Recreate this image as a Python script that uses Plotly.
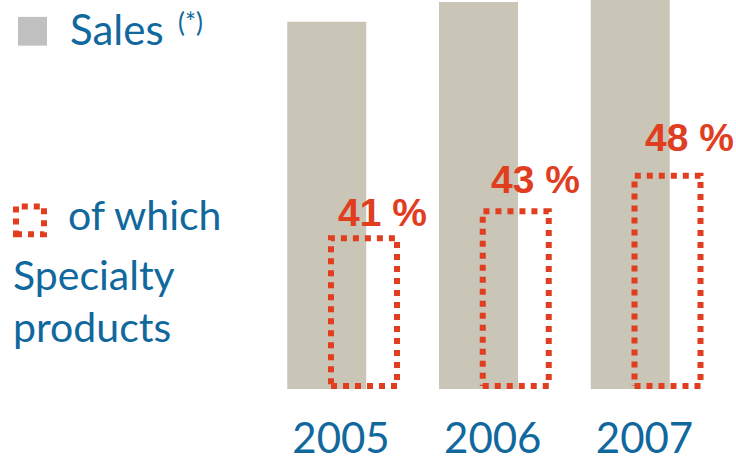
import plotly.graph_objects as go

# ---------------- data ----------------
years = ["2005", "2006", "2007"]
sales = [100.0, 105.4, 108.0]          # relative sales index (2005 = 100)
specialty = [41.9, 49.2, 58.9]         # specialty products, same relative scale
share_labels = ["41 %", "43 %", "48 %"]

# ---------------- styling ----------------
W, H = 736, 462
M_B = 70
PLOT_H = H - M_B
Y_TOP = 105.95
UNIT_PX = 151.75
X0_PX = 341.0

BLUE = "#11689d"
RED = "#e03e1f"
BAR_GREY = "#c9c5b7"
LEG_GREY = "#c0c0c0"

px_per_y = PLOT_H / Y_TOP
line_w = 6
inset_x = (line_w / 2) / UNIT_PX
inset_y = (line_w / 2) / px_per_y

grey_offset = -53.75 / UNIT_PX
grey_width = 79 / UNIT_PX
red_left = -13.0 / UNIT_PX
red_width = 72 / UNIT_PX

xs = list(range(len(years)))

fig = go.Figure()
fig.add_trace(go.Bar(
    x=xs, y=sales, width=grey_width, offset=grey_offset,
    marker=dict(color=BAR_GREY, line=dict(width=0)),
    showlegend=False, hoverinfo="skip",
))

for i, v in enumerate(specialty):
    l = xs[i] + red_left + inset_x
    r = xs[i] + red_left + red_width - inset_x
    b = inset_y
    t = v - inset_y
    fig.add_trace(go.Scatter(
        x=[l, r, r, l, l], y=[b, b, t, t, b], mode="lines",
        line=dict(color=RED, width=line_w, dash="dot"),
        showlegend=False, hoverinfo="skip",
    ))

label_dx = [18, 20, 22]
label_dy = [23, 29, 35]
for i, (v, txt) in enumerate(zip(specialty, share_labels)):
    fig.add_annotation(
        x=xs[i] + red_left + red_width / 2, y=v, xref="x", yref="y",
        text=txt, showarrow=False, xanchor="center", yanchor="middle",
        xshift=label_dx[i], yshift=label_dy[i],
        font=dict(family="Liberation Sans, Arial", size=39, color=RED, weight="bold"),
    )

def px2paper(px, py):
    return px / W, (PLOT_H - py) / PLOT_H

# legend: grey square
x0, y0 = px2paper(18, 17)
x1, y1 = px2paper(47, 46)
fig.add_shape(type="rect", xref="paper", yref="paper", x0=x0, y0=y1, x1=x1, y1=y0,
              fillcolor=LEG_GREY, line=dict(width=0))
# legend: red dotted square
x0, y0 = px2paper(16, 208)
x1, y1 = px2paper(44, 236)
fig.add_shape(type="rect", xref="paper", yref="paper", x0=x0, y0=y1, x1=x1, y1=y0,
              fillcolor="rgba(0,0,0,0)", line=dict(color=RED, width=line_w, dash="dot"))

def leg_text(txt, px, py, size):
    x, y = px2paper(px, py)
    fig.add_annotation(x=x, y=y, xref="paper", yref="paper", text=txt, showarrow=False,
                       xanchor="left", yanchor="middle",
                       font=dict(family="Lato", size=size, color=BLUE))

leg_text("Sales", 68, 29, 42)
leg_text("(*)", 176, 22, 26)
leg_text("of which", 66, 216, 41)
leg_text("Specialty", 11, 277, 41)
leg_text("products", 11, 329, 41)

fig.update_layout(
    width=W, height=H,
    margin=dict(l=0, r=0, t=0, b=M_B),
    paper_bgcolor="white", plot_bgcolor="white",
    barmode="overlay",
    xaxis=dict(range=[-X0_PX / UNIT_PX, (W - X0_PX) / UNIT_PX],
               tickvals=xs, ticktext=years, showgrid=False, zeroline=False,
               showline=False, ticks="", ticklabelstandoff=21,
               tickfont=dict(family="Lato", size=42, color=BLUE)),
    yaxis=dict(range=[0, Y_TOP], visible=False, showgrid=False, zeroline=False),
)

fig.write_html("out.html", config={"displayModeBar": False},
               post_script="document.body.style.margin='0';")
